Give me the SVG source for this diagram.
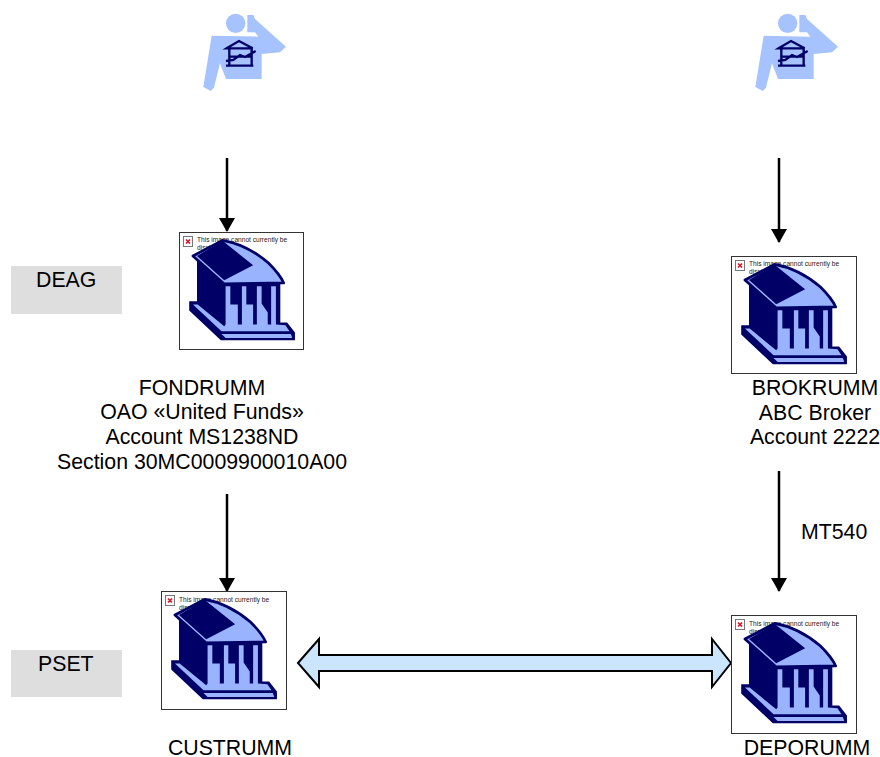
<svg xmlns="http://www.w3.org/2000/svg" xmlns:xlink="http://www.w3.org/1999/xlink" width="880" height="757" viewBox="0 0 880 757">
<style>
text{font-family:"Liberation Sans",Arial,sans-serif;fill:#000}
.t{font-size:21.3px}
.m{text-anchor:middle}
.s{font-size:6.6px;fill:#222}
.box{fill:#fff;stroke:#333;stroke-width:1}
.tag{fill:#dedede}
.conn{fill:none;stroke:#000;stroke-width:2.5;marker-end:url(#ah)}
.dk{fill:#000066}
.lt{fill:#99b3ff}
.lo{fill:#99b3ff;stroke:#000066;stroke-width:8;stroke-linejoin:round}
.ic{fill:none;stroke:#000066;stroke-width:7}
.p{fill:#a6c2ff}
</style>
<defs>
<marker id="ah" viewBox="0 0 14 16" refX="13" refY="8" markerWidth="14" markerHeight="16" markerUnits="userSpaceOnUse" orient="auto"><path d="M0 0L14 8L0 16Z" fill="#000"/></marker>
<g id="err"><rect x="0.5" y="0.5" width="9" height="10" fill="#fff" stroke="#777" stroke-width="1"/><path d="M3 3.5L7 7.5M7 3.5L3 7.5" stroke="#e01020" stroke-width="1.6"/></g>
<g id="bank" transform="scale(0.34,0.333) translate(-27,-20)">
<path class="dk" d="M80 100L80 228L57 228L57 256L150 345L368 345L368 322L345 292L325 292L325 172L160 172Z"/>
<path class="lt" d="M68 238L82 238L160 303L164 298L164 183L178 183L178 238L200 238L200 298L212 298L212 183L225 183L225 238L245 238L245 298L256 298L256 183L270 183L270 235L288 262L288 298L298 298L298 183L312 183L312 298L340 300L352 318L152 318Z"/>
<path class="lo" d="M68 92L155 45C200 53 250 78 290 113C312 135 327 155 335 173L160 176Z"/>
<path class="dk" d="M80 92L155 46L245 120L160 165Z"/>
<path class="lt" d="M152 326L356 326L360 338L164 338Z"/>
</g>
<g id="person">
<circle class="p" cx="137" cy="55" r="29"/>
<path class="p" d="M65 92L205 95L195 82L172 82L172 30L190 30L195 42L288 125L270 142L215 147L215 222L108 222L90 175L75 235L72 248L62 258L40 246Z"/>
<path class="ic" d="M110 130L147 108L188 130ZM118 132L118 182M185 132L185 182M108 182L190 182M118 155L185 155M108 168L130 165L150 150L165 156L197 138"/>
</g>
</defs>
<rect width="880" height="757" fill="#fff"/>
<g id="deag"><rect class="tag" x="11" y="266" width="111" height="48"/><text class="t" x="36" y="287">DEAG</text></g>
<g id="pset"><rect class="tag" x="11" y="650" width="111" height="47"/><text class="t" x="38" y="671">PSET</text></g>
<g id="person-left"><use xlink:href="#person" href="#person" transform="translate(190,5) scale(0.3333)"/></g>
<g id="person-right"><use xlink:href="#person" href="#person" transform="translate(742,5) scale(0.3333)"/></g>
<g id="connectors">
<path class="conn" d="M227 158V231"/>
<path class="conn" d="M227 494V591"/>
<path class="conn" d="M779 158V242"/>
<path class="conn" d="M779 471V591"/>
<path d="M298 663L319 639V655H712V639L731 663L712 687V671H319V687Z" fill="#cce5ff" stroke="#000" stroke-width="2" stroke-linejoin="miter"/>
</g>
<g id="fondrumm">
<rect class="box" x="179.500" y="232.500" width="124" height="117"/>
<use xlink:href="#err" href="#err" x="183" y="236"/>
<text class="s" x="197" y="242">This image cannot currently be</text><text class="s" x="197" y="250">displayed.</text>
<use xlink:href="#bank" href="#bank" transform="translate(179,232)"/>
<text class="t m" x="202" y="395">FONDRUMM</text>
<text class="t m" x="202" y="419">OAO «United Funds»</text>
<text class="t m" x="202" y="444">Account MS1238ND</text>
<text class="t m" x="202" y="469">Section 30MC0009900010A00</text>
</g>
<g id="brokrumm">
<rect class="box" x="731.500" y="256.500" width="125" height="117"/>
<use xlink:href="#err" href="#err" x="735" y="260"/>
<text class="s" x="749" y="266">This image cannot currently be</text><text class="s" x="749" y="274">displayed.</text>
<use xlink:href="#bank" href="#bank" transform="translate(731,256)"/>
<text class="t m" x="815" y="395">BROKRUMM</text>
<text class="t m" x="815" y="420">ABC Broker</text>
<text class="t m" x="815" y="444">Account 2222</text>
</g>
<g id="custrumm">
<rect class="box" x="161.500" y="591.500" width="125" height="118"/>
<use xlink:href="#err" href="#err" x="165" y="595"/>
<text class="s" x="179" y="602">This image cannot currently be</text><text class="s" x="179" y="610">displayed.</text>
<use xlink:href="#bank" href="#bank" transform="translate(161,591)"/>
<text class="t m" x="230" y="755">CUSTRUMM</text>
</g>
<g id="deporumm">
<rect class="box" x="731.500" y="615.500" width="125" height="118"/>
<use xlink:href="#err" href="#err" x="735" y="619"/>
<text class="s" x="749" y="626">This image cannot currently be</text><text class="s" x="749" y="634">displayed.</text>
<use xlink:href="#bank" href="#bank" transform="translate(731,615)"/>
<text class="t m" x="807" y="755">DEPORUMM</text>
</g>
<text class="t" x="801" y="539">MT540</text>
</svg>
